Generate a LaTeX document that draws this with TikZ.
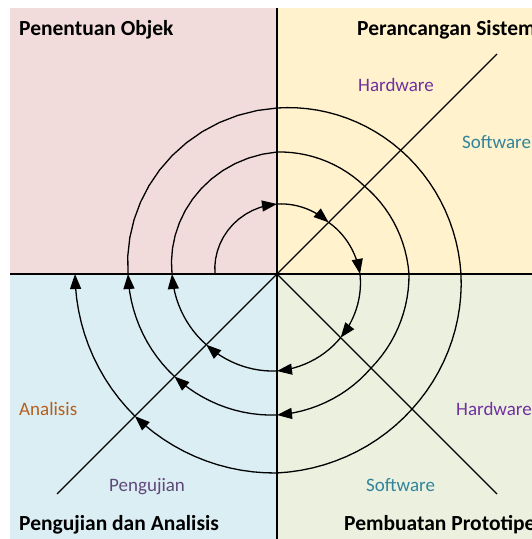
\documentclass[tikz,border=0pt]{standalone}
\usepackage{fontspec}
\setmainfont{Carlito}
\usepackage{xcolor}
\usetikzlibrary{arrows.meta, positioning, calc}

\definecolor{pinkq}{RGB}{242,220,219}
\definecolor{yellowq}{RGB}{255,242,204}
\definecolor{blueq}{RGB}{219,238,244}
\definecolor{greenq}{RGB}{235,241,222}
\definecolor{hwcol}{RGB}{112,48,160}
\definecolor{swcol}{RGB}{49,132,155}
\definecolor{ancol}{RGB}{182,94,28}
\definecolor{pgcol}{RGB}{96,73,122}

% one stretch of the spiral: style, start point, pieces a/b/r/s (angle a to b, radius r to s)
\newcommand{\turn}[3]{%
  \draw[spiral,#1] (#2) \foreach \a/\b/\r/\s in {#3} {%
    -- plot[domain=\a:\b, samples=14] (\x:{\r+(\s-\r)*(\x-\a)/(\b-\a)})};%
}

\begin{document}
\begin{tikzpicture}[
    x=1pt, y=1pt,
    axisline/.style={line width=2.3pt},
    diagline/.style={line width=1.2pt},
    spiral/.style={line width=1.3pt},
    tip/.style={-{Triangle[length=15pt,width=11pt]}},
    title/.style={font=\bfseries\fontsize{21.5}{24}\selectfont, anchor=base west, inner sep=0pt},
    tag/.style={font=\fontsize{19}{22}\selectfont, anchor=base west, inner sep=0pt}
]
\useasboundingbox (0,0) rectangle (532,539);
\clip (0,0) rectangle (532,539);

% Quadrants
\fill[pinkq] (10,531) rectangle (277,265);
\fill[yellowq] (277,531) rectangle (532,265);
\fill[blueq] (10,265) rectangle (277,0);
\fill[greenq] (277,265) rectangle (532,0);

% Axes
\coordinate (o) at (277,265);
\coordinate (left) at (10,265);
\coordinate (right) at (532,265);
\coordinate (top) at (277,531);
\coordinate (bottom) at (277,0);
\draw[axisline] (left) -- (right);
\draw[axisline] (top) -- (bottom);

% Diagonals
\coordinate (ne) at (497,485);
\coordinate (sw) at (57,45);
\coordinate (se) at (497,45);
\draw[diagline] (sw) -- (ne);
\draw[diagline] (o) -- (se);

% Titles
\node[title] (objek) at (19,503.5) {Penentuan Objek};
\node[title] (sistem) at (357,503.5) {Perancangan Sistem};
\node[title] (uji) at (19,9) {Pengujian dan Analisis};
\node[title] (proto) at (344,9) {Pembuatan Prototipe};

% Labels
\node[tag, text=hwcol] (hwtop) at (358,447.5) {Hardware};
\node[tag, text=swcol] (swtop) at (462,390) {Software};
\node[tag, text=ancol] (analisis) at (19,123.5) {Analisis};
\node[tag, text=hwcol] (hwbot) at (456,123.5) {Hardware};
\node[tag, text=pgcol] (pengujian) at (109,48) {Pengujian};
\node[tag, text=swcol] (swbot) at (366,48) {Software};

% Spiral
\begin{scope}[shift={(o)}]
  % inner turn
  \turn{tip}{180:62}{180/90/62/70}
  \turn{tip}{90:70}{90/45/70/73}
  \turn{tip}{45:73}{45/0/73/83}
  \turn{tip}{0:83}{0/-45/83/90}
  \turn{tip}{-45:90}{-45/-90/90/97}
  \turn{tip}{-90:97}{-90/-135/97/100}
  \turn{tip}{-135:100}{-135/-180/100/105}
  % second turn
  \turn{tip}{-180:105}{-180/-270/105/122, -270/-315/122/124, -315/-360/124/132, -360/-405/132/133, -405/-450/133/141}
  \turn{tip}{-450:141}{-450/-495/141/145}
  \turn{tip}{-495:145}{-495/-540/145/149}
  % outer turn
  \turn{tip}{-540:149}{-540/-630/149/166, -630/-675/166/175, -675/-720/175/184, -720/-765/184/191, -765/-810/191/199, -810/-855/199/201}
  \turn{tip}{-855:201}{-855/-900/201/202}
\end{scope}

\end{tikzpicture}
\end{document}
